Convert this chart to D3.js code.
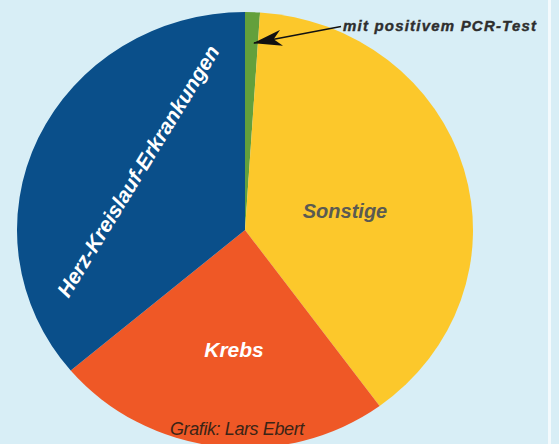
<!DOCTYPE html>
<html lang="de">
<head>
    <meta charset="UTF-8">
    <title>Todesursachen</title>
    <script src="https://d3js.org/d3.v7.min.js"></script>
    <style>
        body { margin: 0; background: #d8eef6; }
        svg { display: block; font-family: "Liberation Sans", Arial, sans-serif; }
        .lbl { font-weight: bold; font-style: italic; }
    </style>
</head>
<body>
    <svg width="559" height="444"></svg>
    <script>
        // share of deaths (in percent), clockwise from 12 o'clock
        const categories = ["mit positivem PCR-Test", "Sonstige", "Krebs", "Herz-Kreislauf-Erkrankungen"];
        const values = [1.05, 38.9, 23.9, 36.15];
        const colors = ["#63a03c", "#fcc82b", "#ef5826", "#0a4f8a"];

        const svg = d3.select("svg");
        const cx = 245, cy = 230, rx = 228, ry = 218;

        svg.append("rect").attr("width", 559).attr("height", 444).attr("fill", "#d8eef6");
        // thin white divider on the right
        svg.append("rect").attr("x", 548).attr("y", 0).attr("width", 3).attr("height", 444).attr("fill", "#f4fafd");

        const pie = d3.pie().sort(null).value(d => d.v);
        const arc = d3.arc().innerRadius(0).outerRadius(rx);
        const slices = pie(categories.map((c, i) => ({ c, v: values[i], col: colors[i] })));

        const g = svg.append("g")
            .attr("transform", `translate(${cx},${cy}) scale(1,${ry / rx})`);

        g.selectAll("path")
            .data(slices)
            .join("path")
            .attr("d", arc)
            .attr("fill", d => d.data.col);

        // slice labels
        svg.append("text")
            .attr("class", "lbl")
            .attr("transform", "translate(138,171) rotate(-58.5)")
            .attr("text-anchor", "middle")
            .attr("dominant-baseline", "central")
            .attr("font-size", 21)
            .attr("fill", "#fff")
            .text(categories[3]);

        svg.append("text")
            .attr("class", "lbl")
            .attr("x", 234).attr("y", 357)
            .attr("text-anchor", "middle")
            .attr("font-size", 21)
            .attr("fill", "#fff")
            .text(categories[2]);

        svg.append("text")
            .attr("class", "lbl")
            .attr("x", 345).attr("y", 218)
            .attr("text-anchor", "middle")
            .attr("font-size", 20)
            .attr("fill", "#5a5a52")
            .text(categories[1]);

        // callout for the small slice
        svg.append("defs").append("marker")
            .attr("id", "head")
            .attr("viewBox", "0 0 29 16")
            .attr("refX", 28).attr("refY", 8)
            .attr("markerWidth", 29).attr("markerHeight", 16)
            .attr("markerUnits", "userSpaceOnUse")
            .attr("orient", "auto")
            .append("path")
            .attr("d", "M0,0 L29,8 L0,16 L8,8 Z")
            .attr("fill", "#111");

        svg.append("line")
            .attr("x1", 341).attr("y1", 26.5)
            .attr("x2", 254).attr("y2", 43)
            .attr("stroke", "#111")
            .attr("stroke-width", 1.6)
            .attr("marker-end", "url(#head)");

        svg.append("text")
            .attr("class", "lbl")
            .attr("x", 343).attr("y", 31)
            .attr("font-size", 15)
            .attr("letter-spacing", 1.2)
            .attr("fill", "#2e2e2e")
            .attr("stroke", "#2e2e2e")
            .attr("stroke-width", 0.4)
            .text(categories[0]);

        svg.append("text")
            .attr("x", 170).attr("y", 435)
            .attr("font-size", 18)
            .attr("font-style", "italic")
            .attr("letter-spacing", -0.4)
            .attr("fill", "#3b2416")
            .text("Grafik: Lars Ebert");
    </script>
</body>
</html>
